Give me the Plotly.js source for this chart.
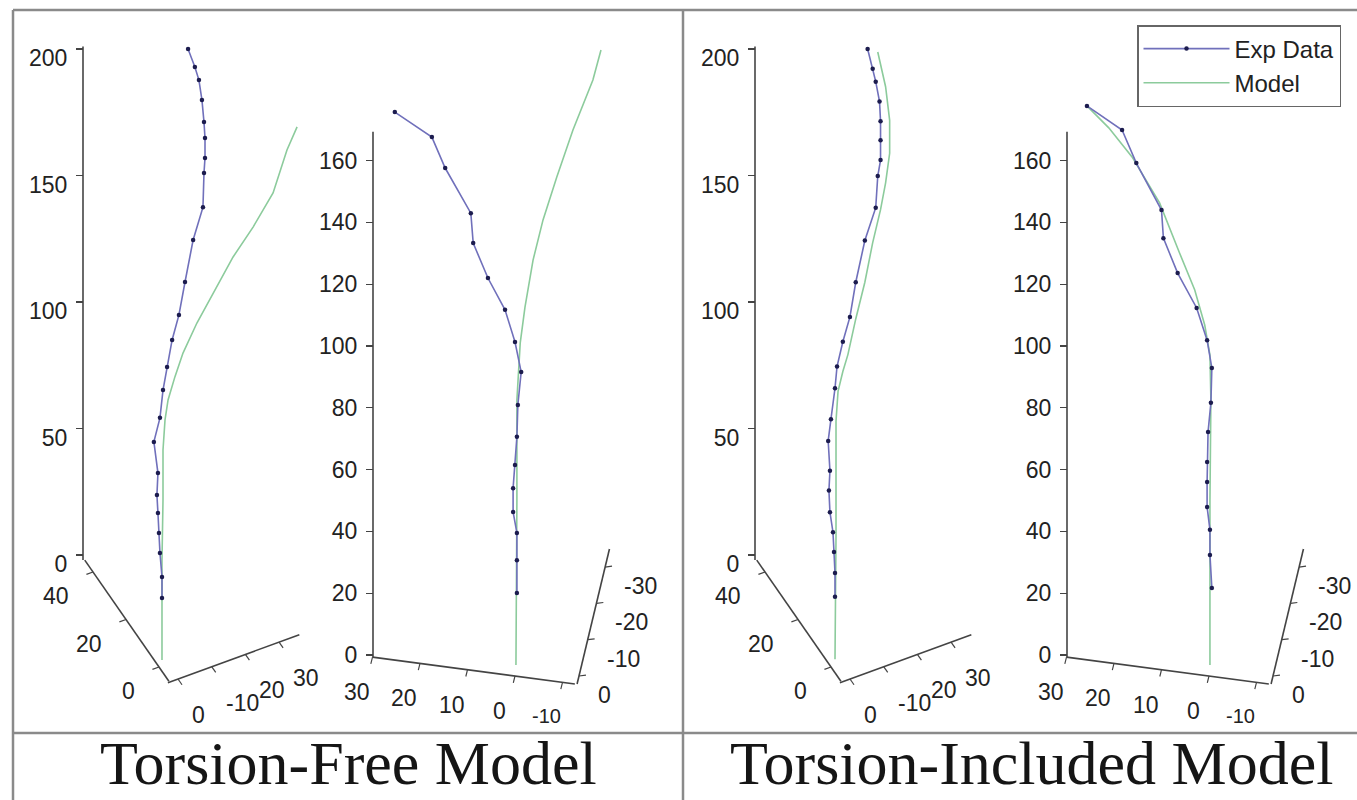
<!DOCTYPE html>
<html><head><meta charset="utf-8">
<script src="https://cdn.plot.ly/plotly-3.0.1.min.js"></script>
<style>html,body{margin:0;padding:0;background:#fff}#chart{width:1357px;height:800px}</style>
</head><body><div id="chart"></div>
<script>
// ---------------- DATA ----------------
// Torsion-Free model, view 1 (projected lateral offset vs height)
const tfV1ExpX = [9.9,12.6,14.2,15.4,16.2,16.6,16.6,16.2,15.8,11.9,8.7,6.3,3.6,1.6,0,-1.2,-3.6,-2.0,-2.4,-2.0,-1.6,-1.2,-0.4,-0.4];
const tfV1ExpZ = [200,192.9,187.7,179.8,171.1,164.8,156.9,151.0,137.5,124.5,107.9,94.9,85.0,74.3,65.2,54.2,44.7,32.4,23.7,16.6,8.7,0.8,-8.7,-17.0];
const tfV1ModX = [53.0,49.0,43.5,35.6,27.7,19.8,13.4,7.9,4.7,2.0,0.8,0,0,-0.4,-0.4];
const tfV1ModZ = [169.2,160.1,143.1,129.6,117.8,103.6,91.7,79.8,70.4,61.3,53.4,41.5,21.7,-2.0,-41.5];
// Torsion-Free model, view 2
const tfV2ExpX = [25.3,17.5,14.7,9.3,8.8,5.7,2.1,0,-1.3,-0.6,-0.4,0,0.4,0.4,-0.4,-0.4,-0.4];
const tfV2ExpZ = [175.7,167.6,157.6,143.0,133.3,122.0,111.7,101.3,91.6,80.9,70.6,61.5,54.0,46.3,39.5,30.7,20.1];
const tfV2ModX = [-18.1,-16.4,-12.2,-8.8,-5.9,-3.8,-2.1,-1.1,-0.4,-0.4,-0.2];
const tfV2ModZ = [195.8,186.1,169.9,154.7,140.8,127.8,112.6,101.0,82.5,50.2,-3.2];
// Torsion-Included model, view 1
const tiV1ExpX = [12.9,14.9,16.1,17.6,18.0,18.0,18.0,16.9,16.1,11.8,8.2,5.9,3.1,0.8,0,-1.6,-2.7,-2.0,-2.4,-2.0,-0.8,-0.4,0,0];
const tiV1ExpZ = [200,192.2,187.1,179.2,171.4,163.9,156.1,149.8,137.3,124.3,107.8,94.1,84.3,74.5,65.9,53.7,45.1,33.3,25.5,16.9,9.0,1.2,-7.1,-16.5];
const tiV1ModX = [16.9,20.0,21.6,21.6,20.0,18.0,14.9,11.8,8.2,5.1,3.1,1.2,0.4,0.4,0.4,0];
const tiV1ModZ = [198.8,185.1,171.8,158.8,147.1,136.5,123.5,107.8,93.3,79.2,72.5,64.7,52.9,33.3,7.1,-41.2];
// Torsion-Included model, view 2
const tiV2ExpX = [25.7,18.3,15.3,10.0,9.6,6.6,2.6,0.4,-0.6,-0.4,0.2,0.4,0.4,0.4,-0.2,-0.2,-0.6];
const tiV2ExpZ = [177.7,169.9,159.2,144.0,134.9,123.6,112.3,101.9,92.9,81.6,72.2,62.5,56.0,47.9,40.5,32.4,21.7];
const tiV2ModX = [25.7,21.1,16.2,10.4,6.2,3.0,0.9,-0.2,-0.4,-0.2,-0.2];
const tiV2ModZ = [177.7,170.6,161.2,146.3,130.1,118.1,106.8,97.1,82.5,50.2,-3.2];

// tick values / labels
const zTicksV1 = [0,50,100,150,200];
const zTicksV2 = [0,20,40,60,80,100,120,140,160];
const v1DepthTicks = [0,20,40];
const v1DepthLabels = ["0","20","40"];
const v1SideTicks = [0,10,20,30];
const v1SideLabels = ["0","-10","20","30"];
const v2BottomTicks = [30,20,10,0,-10];
const v2BottomLabels = ["30","20","10","0","-10"];
const v2SideTicks = [0,-10,-20,-30];
const v2SideLabels = ["0","-10","-20","-30"];
const panelTitles = ["Torsion-Free Model","Torsion-Included Model"];
const seriesNames = ["Exp Data","Model"];

// ---------------- GEOMETRY / STYLE ----------------
const W = 1357, H = 800;
const TICKFONT = {family:'Liberation Sans, Arial, sans-serif', size:23, color:'#222'};
const SMALLFONT = {family:'Liberation Sans, Arial, sans-serif', size:20, color:'#222'};
const AXCOL = '#444';
const GEOM = {
  v1: {X0:163, Y0:555, sx:2.53, sz:2.53, rev:false, zAxisPx:83, zLine:[-2,201], zTicks:zTicksV1, shift:9,
       oblique:[
         {p0:[159,667], d:[-1.65,-2.375], ext:[-6,45], ticks:v1DepthTicks, labels:v1DepthLabels,
          tdir:[-0.94,0.34], lo:[-22,24], xa:'right'},
         {p0:[178,679], d:[3.37,-1.23], ext:[-3,36], ticks:v1SideTicks, labels:v1SideLabels,
          tdir:[0.57,0.82], lo:[12,36], xa:'left'}
       ]},
  v2: {X0:515, Y0:655, sx:4.75, sz:3.09, rev:true, zAxisPx:373, zLine:[-0.7,169.3], zTicks:zTicksV2, shift:0,
       oblique:[
         {p0:[515,676], d:[-4.75,-0.63], ext:[30,-12.6], ticks:v2BottomTicks, labels:v2BottomLabels,
          tdir:[-0.24,0.97], lo:[-16,35], xa:'center', small:[4]},
         {p0:[579,676], d:[-0.87,3.63], ext:[2.2,-35], ticks:v2SideTicks, labels:v2SideLabels,
          tdir:[0.99,-0.13], lo:[17,19], xa:'left'}
       ]}
};
const VIEWS = [
  {g:'v1', off:0,   exp:[tfV1ExpX,tfV1ExpZ], mod:[tfV1ModX,tfV1ModZ]},
  {g:'v2', off:0,   exp:[tfV2ExpX,tfV2ExpZ], mod:[tfV2ModX,tfV2ModZ]},
  {g:'v1', off:672, exp:[tiV1ExpX,tiV1ExpZ], mod:[tiV1ModX,tiV1ModZ]},
  {g:'v2', off:694, exp:[tiV2ExpX,tiV2ExpZ], mod:[tiV2ModX,tiV2ModZ]}
];
const EXP_LINE = '#7070bb', EXP_MARK = '#1c1c4e', MOD_LINE = '#8ccb9c';

const px = x => x / W, py = y => 1 - y / H;
const layout = {
  width:W, height:H, margin:{l:0,r:0,t:0,b:0},
  paper_bgcolor:'#fff', plot_bgcolor:'rgba(0,0,0,0)',
  showlegend:true,
  legend:{x:px(1137), y:py(25), xanchor:'left', yanchor:'top', bgcolor:'#fff',
          bordercolor:'#666', borderwidth:1.5, itemwidth:86, traceorder:'normal',
          font:{family:'Liberation Sans, Arial, sans-serif', size:24, color:'#222'}},
  shapes:[], annotations:[]
};
const traces = [];

VIEWS.forEach((v, i) => {
  const g = GEOM[v.g];
  const k = i === 0 ? '' : String(i + 1);
  const X = g.X0 + v.off;
  layout['xaxis' + k] = {
    domain:[0,1], visible:false, fixedrange:true,
    range: g.rev ? [X / g.sx, (X - W) / g.sx] : [-X / g.sx, (W - X) / g.sx]
  };
  layout['yaxis' + k] = {
    domain:[0,1], range:[(g.Y0 - H) / g.sz, g.Y0 / g.sz], anchor:'free',
    position:(g.zAxisPx + v.off) / W, tickmode:'array', tickvals:g.zTicks,
    ticks:'outside', ticklen:7, tickwidth:1.2, tickcolor:AXCOL,
    showline:false, showgrid:false, zeroline:false, fixedrange:true,
    tickfont:TICKFONT, ticklabelshift:g.shift, ticklabelstandoff:4
  };
  // z-axis line
  layout.shapes.push({type:'line', xref:'paper', yref:'y' + k,
    x0:px(g.zAxisPx + v.off), x1:px(g.zAxisPx + v.off), y0:g.zLine[0], y1:g.zLine[1],
    line:{color:AXCOL, width:1.6}});
  // oblique (projected) axes
  g.oblique.forEach(a => {
    const P = t => [a.p0[0] + v.off + a.d[0] * t, a.p0[1] + a.d[1] * t];
    const s = P(a.ext[0]), e = P(a.ext[1]);
    layout.shapes.push({type:'line', xref:'paper', yref:'paper',
      x0:px(s[0]), y0:py(s[1]), x1:px(e[0]), y1:py(e[1]), line:{color:AXCOL, width:1.6}});
    a.ticks.forEach((t, j) => {
      const p = P(t);
      const small = a.small && a.small.includes(j);
      layout.shapes.push({type:'line', xref:'paper', yref:'paper',
        x0:px(p[0]), y0:py(p[1]), x1:px(p[0] + a.tdir[0] * 7), y1:py(p[1] + a.tdir[1] * 7),
        line:{color:AXCOL, width:1.2}});
      layout.annotations.push({xref:'paper', yref:'paper', x:px(p[0] + a.lo[0]),
        y:py(p[1] + a.lo[1] - (small ? 1 : 0)),
        xanchor:a.xa, yanchor:'middle', text:a.labels[j], showarrow:false,
        font: small ? SMALLFONT : TICKFONT});
    });
  });
  traces.push({type:'scatter', mode:'lines', x:v.mod[0], y:v.mod[1], xaxis:'x' + k, yaxis:'y' + k,
    line:{color:MOD_LINE, width:1.6}, name:seriesNames[1], legendrank:2, showlegend:i === 0,
    hoverinfo:'skip'});
  traces.push({type:'scatter', mode:'lines+markers', x:v.exp[0], y:v.exp[1], xaxis:'x' + k, yaxis:'y' + k,
    line:{color:EXP_LINE, width:1.6}, marker:{size:4.5, color:EXP_MARK}, name:seriesNames[0],
    legendrank:1, showlegend:i === 0, hoverinfo:'skip'});
});

// frame lines
const FRAME = {color:'#8a8a8a', width:2.5};
[[13,10,1357,10],[13,10,13,800],[683,10,683,800],[13,733,1357,733]].forEach(l => {
  layout.shapes.push({type:'line', xref:'paper', yref:'paper',
    x0:px(l[0]), y0:py(l[1]), x1:px(l[2]), y1:py(l[3]), line:FRAME});
});
// panel titles
[[348, panelTitles[0]], [1031, panelTitles[1]]].forEach(t => {
  layout.annotations.push({xref:'paper', yref:'paper', x:px(t[0]), y:py(763), xanchor:'center',
    yanchor:'middle', text:t[1], showarrow:false,
    font:{family:'Liberation Serif, Times New Roman, serif', size:62, color:'#151515'}});
});

Plotly.newPlot('chart', traces, layout, {staticPlot:true, displayModeBar:false});
</script></body></html>
